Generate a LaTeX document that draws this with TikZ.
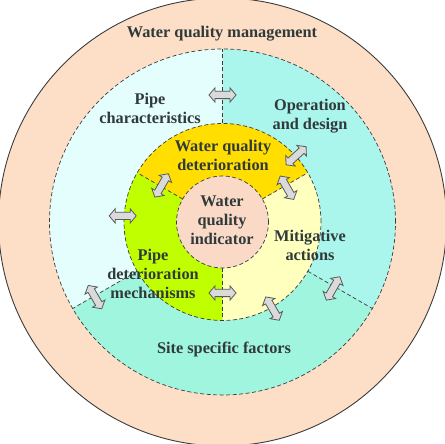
\documentclass[tikz,border=0pt]{standalone}
\usepackage{fontspec}
\setmainfont{Liberation Serif}
\usetikzlibrary{shapes.arrows}
\definecolor{peach}{RGB}{253,222,198}
\definecolor{pcyan}{RGB}{228,253,253}
\definecolor{ocyan}{RGB}{170,245,236}
\definecolor{scyan}{RGB}{160,245,222}
\definecolor{gold}{RGB}{255,222,0}
\definecolor{lime}{RGB}{192,255,0}
\definecolor{lyellow}{RGB}{255,255,190}
\definecolor{ipeach}{RGB}{250,218,198}
\definecolor{txt}{RGB}{48,58,58}
\definecolor{edge}{RGB}{60,60,60}
\definecolor{agray}{RGB}{218,218,218}
\definecolor{aedge}{RGB}{90,90,90}
\tikzset{
  dsh/.style={draw=edge, line width=0.7pt, dash pattern=on 4pt off 2.5pt},
  lbl/.style={text=txt, align=center, inner sep=0pt, font=\fontsize{16.3}{19}\selectfont\bfseries},
  darr/.style={double arrow, draw=aedge, fill=agray, line width=0.8pt, inner sep=0pt,
    minimum height=27pt, double arrow head extend=3.5pt, double arrow tip angle=100}
}
\newcommand{\shaft}{\rule{0pt}{6.5pt}}
\begin{document}
\begin{tikzpicture}[x=1pt,y=1pt]
\useasboundingbox (0,0) rectangle (445,444);
\begin{scope}[shift={(222.5,222)}]
  % outer ring
  \fill[peach] (0,0) circle (224);
  \draw[edge, line width=0.9pt] (0,0) circle (224);
  % middle sectors
  \fill[pcyan] (0,0) -- (90:173) arc (90:210:173) -- cycle;
  \fill[ocyan] (0,0) -- (-30:173) arc (-30:90:173) -- cycle;
  \fill[scyan] (0,0) -- (210:173) arc (210:330:173) -- cycle;
  % inner ring sectors
  \fill[gold] (0,0) -- (30:98.5) arc (30:150:98.5) -- cycle;
  \fill[lime] (0,0) -- (150:98.5) arc (150:270:98.5) -- cycle;
  \fill[lyellow] (0,0) -- (270:98.5) arc (270:390:98.5) -- cycle;
  % inner circle
  \fill[ipeach] (0,0) circle (46);
  % dashed outlines
  \draw[dsh] (0,0) circle (173);
  \draw[dsh] (0,0) circle (98.5);
  \draw[dsh] (0,0) circle (46);
  \draw[dsh] (90:98.5) -- (90:173);
  \draw[dsh] (210:98.5) -- (210:173);
  \draw[dsh] (330:98.5) -- (330:173);
  \draw[dsh] (30:46) -- (30:98.5);
  \draw[dsh] (150:46) -- (150:98.5);
  \draw[dsh] (270:46) -- (270:98.5);
  % arrows
  \node[darr] (a1) at (90:127) {\shaft};
  \node[darr, rotate=42] (a2) at (42:99) {\shaft};
  \node[darr, rotate=120] (a3) at (28:73) {\shaft};
  \node[darr, rotate=60] (a4) at (149:71) {\shaft};
  \node[darr] (a5) at (176.5:100) {\shaft};
  \node[darr] (a6) at (270:71) {\shaft};
  \node[darr, rotate=120] (a7) at (210.5:148) {\shaft};
  \node[darr, rotate=-60] (a8) at (-60:100) {\shaft};
  \node[darr, rotate=60] (a9) at (-31:129) {\shaft};
\end{scope}
% labels
\node[lbl] (wqm) at (222,410) {Water quality management};
\node[lbl] (pc) at (150,336) {Pipe\\characteristics};
\node[lbl] (od) at (310,328) {Operation\\and design};
\node[lbl] (wqd) at (223,289) {Water quality\\deterioration};
\node[lbl] (wqi) at (222,224) {Water\\quality\\indicator};
\node[lbl] (ma) at (310,199) {Mitigative\\actions};
\node[lbl] (pdm) at (153,170) {Pipe\\deterioration\\mechanisms};
\node[lbl] (ssf) at (224,94) {Site specific factors};
\end{tikzpicture}
\end{document}
